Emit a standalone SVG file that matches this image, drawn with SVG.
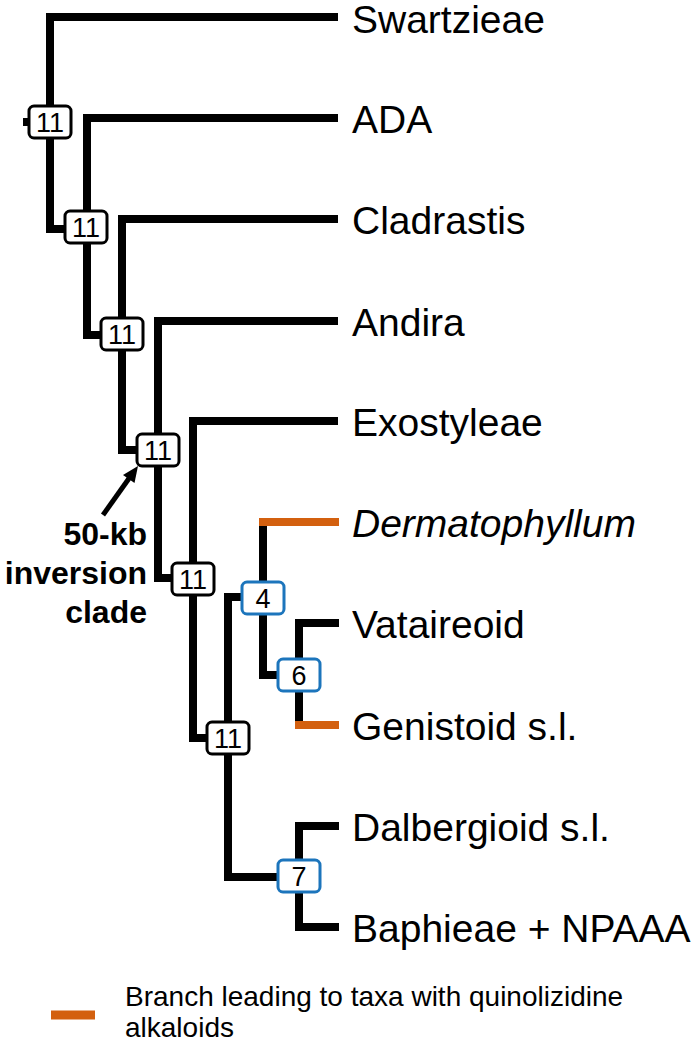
<svg xmlns="http://www.w3.org/2000/svg" width="700" height="1042" viewBox="0 0 700 1042">
<style>
.br{fill:none;stroke:#000;stroke-width:8;stroke-linecap:butt;stroke-linejoin:miter}
.qa{fill:none;stroke:#D3600F;stroke-width:8;stroke-linecap:butt}
.bx{fill:#fff;stroke:#000;stroke-width:3}
.bb{fill:#fff;stroke:#1C75BC;stroke-width:3}
.bt{font-family:"Liberation Sans",Arial,sans-serif;font-size:27px;text-anchor:middle;fill:#000}
.lb{font-family:"Liberation Sans",Arial,sans-serif;font-size:39px;fill:#000}
.an{font-family:"Liberation Sans",Arial,sans-serif;font-size:32px;font-weight:bold;text-anchor:end;fill:#000}
.lg{font-family:"Liberation Sans",Arial,sans-serif;font-size:28px;fill:#000}
</style>
<rect width="700" height="1042" fill="#fff"/>
<g id="connectors">
<path class="br" d="M23,122 H50"/>
<path class="br" d="M338,17 H50 V229 H86"/>
<path class="br" d="M338,118 H87 V335 H122"/>
<path class="br" d="M338,219 H122 V450 H158"/>
<path class="br" d="M338,321 H158 V578 H193"/>
<path class="br" d="M338,421 H193 V738 H228"/>
<path class="br" d="M263,597 H228 V877 H299"/>
<path class="br" d="M263,522 V675 H299"/>
<path class="qa" d="M339,522 H259"/>
<path class="br" d="M339,623 H299 V725"/>
<path class="qa" d="M339,725 H295"/>
<path class="br" d="M339,826 H299 V927 H339"/>
</g>
<g id="n-root"><rect class="bx" x="29" y="106" width="42" height="32" rx="5"/><text class="bt" x="50" y="132">11</text></g>
<g id="n2"><rect class="bx" x="65" y="211" width="42" height="32" rx="5"/><text class="bt" x="86" y="237">11</text></g>
<g id="n3"><rect class="bx" x="101" y="318" width="42" height="32" rx="5"/><text class="bt" x="122" y="344">11</text></g>
<g id="n4"><rect class="bx" x="137" y="434" width="42" height="32" rx="5"/><text class="bt" x="158" y="460">11</text></g>
<g id="n5"><rect class="bx" x="172" y="563" width="42" height="32" rx="5"/><text class="bt" x="193" y="589">11</text></g>
<g id="n6"><rect class="bx" x="207" y="722" width="42" height="32" rx="5"/><text class="bt" x="228" y="748">11</text></g>
<g id="n7"><rect class="bb" x="242" y="582" width="42" height="32" rx="5"/><text class="bt" x="263" y="608">4</text></g>
<g id="n8"><rect class="bb" x="278" y="659" width="42" height="32" rx="5"/><text class="bt" x="299" y="685">6</text></g>
<g id="n9"><rect class="bb" x="278" y="860" width="42" height="32" rx="5"/><text class="bt" x="299" y="886">7</text></g>
<g id="labels">
<text class="lb" x="352" y="33">Swartzieae</text>
<text class="lb" x="352" y="133">ADA</text>
<text class="lb" x="352" y="234">Cladrastis</text>
<text class="lb" x="352" y="336">Andira</text>
<text class="lb" x="352" y="436">Exostyleae</text>
<text class="lb" x="352" y="537" font-style="italic">Dermatophyllum</text>
<text class="lb" x="352" y="638">Vataireoid</text>
<text class="lb" x="352" y="740">Genistoid s.l.</text>
<text class="lb" x="352" y="841">Dalbergioid s.l.</text>
<text class="lb" x="352" y="942">Baphieae + NPAAA</text>
</g>
<g id="annotation">
<line x1="103" y1="515" x2="130" y2="477" stroke="#000" stroke-width="5"/>
<polygon points="138,466 134.5,483.1 123,475" fill="#000"/>
<text class="an" x="147" y="545">50-kb</text>
<text class="an" x="147" y="584">inversion</text>
<text class="an" x="147" y="623">clade</text>
</g>
<g id="legend">
<line x1="51" y1="1015" x2="95" y2="1015" stroke="#D3600F" stroke-width="9"/>
<text class="lg" x="125" y="1006">Branch leading to taxa with quinolizidine</text>
<text class="lg" x="125" y="1037">alkaloids</text>
</g>
</svg>
